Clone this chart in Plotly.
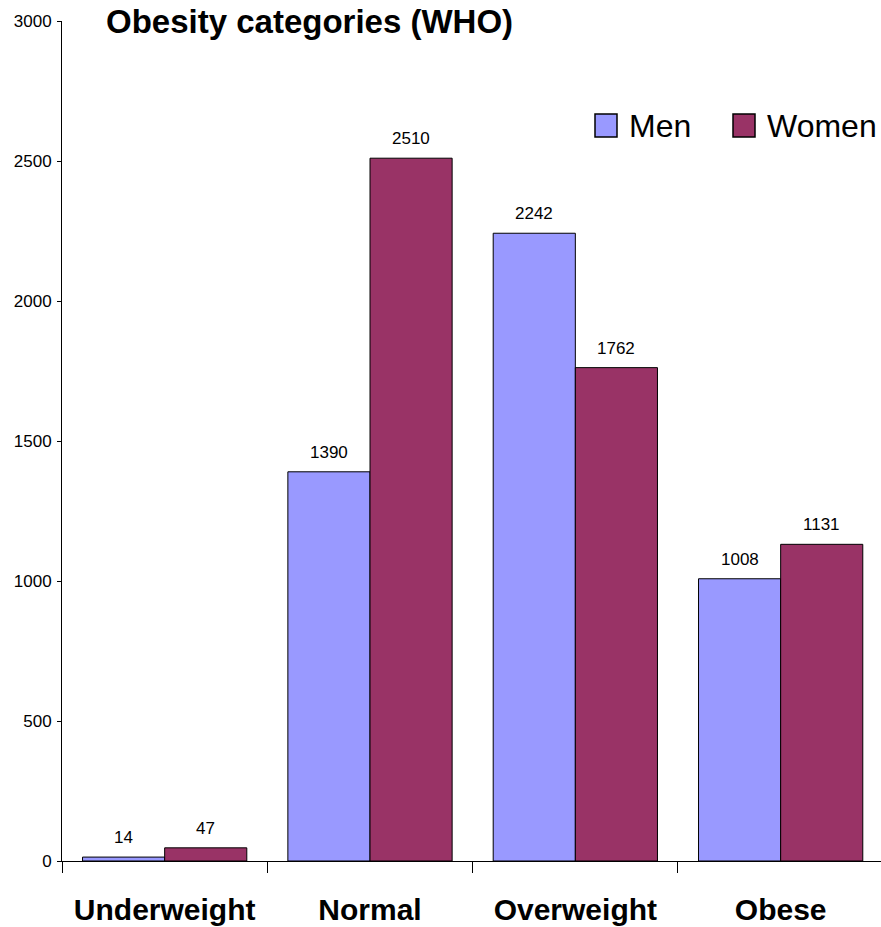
import plotly.graph_objects as go

# Data
categories = ["Underweight", "Normal", "Overweight", "Obese"]
men = [14, 1390, 2242, 1008]
women = [47, 2510, 1762, 1131]
series_names = ["Men", "Women"]
colors = ["#9999FF", "#993366"]

W, H = 881, 927
ML, MR, MT, MB = 62, 0, 21, 66
PW, PH = W - ML - MR, H - MT - MB
CAT_W = 205.33  # pixels per category


def px_x(x):
    return (x - ML) / PW


def px_y(y):
    return (H - MB - y) / PH


FONT = "Arial, Liberation Sans, sans-serif"

fig = go.Figure()
for name, vals, col in zip(series_names, [men, women], colors):
    fig.add_trace(go.Bar(
        x=categories, y=vals, name=name,
        marker=dict(color=col, line=dict(color="#000000", width=1)),
        showlegend=False,
    ))

annotations = []
# value labels above each bar
for offs, vals in zip([-0.2, 0.2], [men, women]):
    for i, v in enumerate(vals):
        annotations.append(dict(
            x=i + offs, y=v, xref="x", yref="y", text=str(v),
            showarrow=False, yanchor="bottom", xanchor="center", yshift=8,
            font=dict(family=FONT, size=17, color="#000000"),
        ))

# chart title
annotations.append(dict(
    x=px_x(104), y=px_y(21), xref="paper", yref="paper",
    text="<b>Obesity categories (WHO)</b>", showarrow=False,
    xanchor="left", yanchor="middle",
    font=dict(family=FONT, size=33, color="#000000"),
))

# legend
shapes = []
legend_items = [("Men", colors[0], 595, 627), ("Women", colors[1], 733, 765)]
for label, col, sx, tx in legend_items:
    shapes.append(dict(
        type="rect", xref="paper", yref="paper",
        x0=px_x(sx), x1=px_x(sx + 22), y0=px_y(137), y1=px_y(114),
        fillcolor=col, line=dict(color="#000000", width=1.5),
    ))
    annotations.append(dict(
        x=px_x(tx), y=px_y(125.5), xref="paper", yref="paper",
        text=label, showarrow=False, xanchor="left", yanchor="middle",
        font=dict(family=FONT, size=32, color="#000000"),
    ))

fig.update_layout(
    width=W, height=H,
    margin=dict(l=ML, r=MR, t=MT, b=MB, pad=0),
    paper_bgcolor="#FFFFFF", plot_bgcolor="#FFFFFF",
    barmode="group", bargap=0.2, bargroupgap=0,
    annotations=annotations, shapes=shapes,
    showlegend=False,
    xaxis=dict(
        type="category",
        range=[-0.5, -0.5 + PW / CAT_W],
        showline=True, linecolor="#000000", linewidth=1,
        ticks="outside", tickson="boundaries", ticklen=11,
        tickcolor="#000000", tickwidth=1,
        showgrid=False, zeroline=False,
        tickfont=dict(family=FONT, size=30, color="#000000"),
        tickvals=categories,
        ticktext=["<b>%s</b>" % c for c in categories],
        ticklabelstandoff=22,
    ),
    yaxis=dict(
        range=[0, 3000], dtick=500, tick0=0,
        showline=True, linecolor="#000000", linewidth=1,
        ticks="outside", ticklen=4, tickcolor="#000000", tickwidth=1,
        showgrid=False, zeroline=False,
        tickfont=dict(family=FONT, size=17, color="#000000"),
        ticklabelstandoff=2,
    ),
)

fig.write_html("out.html")
